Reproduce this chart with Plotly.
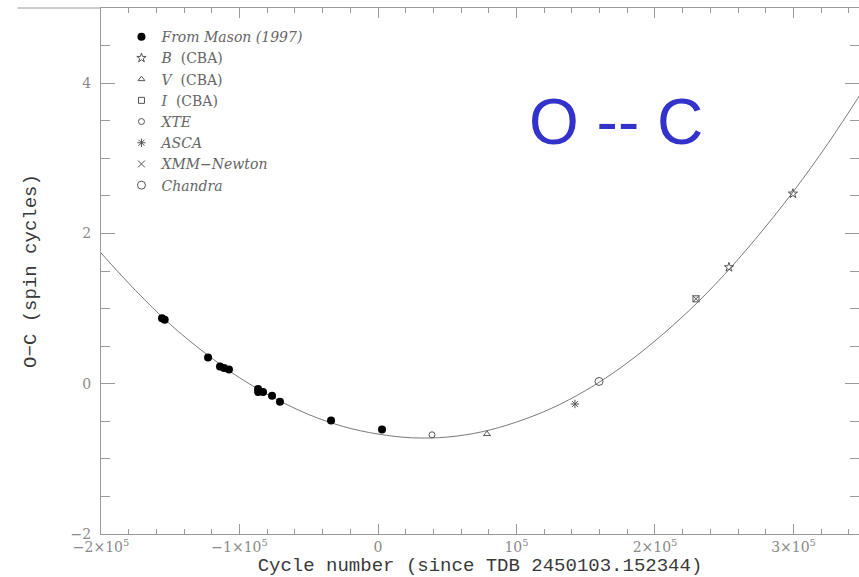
import plotly.graph_objects as go

# O-C timing residuals (spin cycles) against cycle number
mason_cycle = [-1.56e5, -1.54e5, -1.227e5, -1.141e5, -1.112e5, -1.076e5,
               -0.866e5, -0.866e5, -0.830e5, -0.765e5, -0.708e5, -0.339e5, 0.029e5]
mason_oc = [0.87, 0.85, 0.35, 0.23, 0.21, 0.19,
            -0.07, -0.11, -0.11, -0.16, -0.24, -0.49, -0.61]

cba_b_cycle = [2.534e5, 2.996e5]
cba_b_oc = [1.55, 2.53]
cba_v_cycle = [0.787e5]
cba_v_oc = [-0.67]
cba_i_cycle = [2.296e5]
cba_i_oc = [1.13]
xte_cycle = [0.39e5]
xte_oc = [-0.68]
asca_cycle = [1.422e5]
asca_oc = [-0.27]
xmm_cycle = [2.296e5]
xmm_oc = [1.13]
chandra_cycle = [1.596e5]
chandra_oc = [0.03]

# quadratic ephemeris curve, sampled along the plotted range
fit_cycle = [-2.0e5, -1.75e5, -1.5e5, -1.25e5, -1.0e5, -0.75e5, -0.5e5, -0.25e5, 0.0,
             0.25e5, 0.5e5, 0.75e5, 1.0e5, 1.25e5, 1.5e5, 1.75e5, 2.0e5, 2.25e5,
             2.5e5, 2.75e5, 3.0e5, 3.25e5, 3.5e5]
fit_oc = [1.74, 1.24, 0.79, 0.41, 0.08, -0.19, -0.41, -0.57, -0.67,
          -0.72, -0.71, -0.64, -0.51, -0.33, -0.09, 0.21, 0.57, 0.98,
          1.45, 1.98, 2.56, 3.20, 3.90]

x_tickvals = [-2e5, -1e5, 0, 1e5, 2e5, 3e5]
x_ticktext = ["\u22122\u00d710<sup>5</sup>", "\u22121\u00d710<sup>5</sup>", "0",
              "10<sup>5</sup>", "2\u00d710<sup>5</sup>", "3\u00d710<sup>5</sup>"]
y_tickvals = [-2, 0, 2, 4]
y_ticktext = ["\u22122", "0", "2", "4"]

MARK = "#555555"
AXIS = "#9a9a9a"

fig = go.Figure()

fig.add_trace(go.Scatter(x=fit_cycle, y=fit_oc, mode="lines", line=dict(color="#7a7a7a", width=1, shape="spline"),
                         showlegend=False, hoverinfo="skip"))

series = [
    ("<i>From Mason (1997)</i>", mason_cycle, mason_oc, dict(symbol="circle", size=8, color="black")),
    ("<i>B</i>  (CBA)", cba_b_cycle, cba_b_oc, dict(symbol="star-open", size=7, color=MARK, line=dict(width=1, color=MARK))),
    ("<i>V</i>  (CBA)", cba_v_cycle, cba_v_oc, dict(symbol="triangle-up-open", size=6, color=MARK, line=dict(width=1, color=MARK))),
    ("<i>I</i>  (CBA)", cba_i_cycle, cba_i_oc, dict(symbol="square-open", size=6, color=MARK, line=dict(width=1, color=MARK))),
    ("<i>XTE</i>", xte_cycle, xte_oc, dict(symbol="circle-open", size=6, color=MARK, line=dict(width=1, color=MARK))),
    ("<i>ASCA</i>", asca_cycle, asca_oc, dict(symbol="asterisk-open", size=7, color=MARK, line=dict(width=1, color=MARK))),
    ("<i>XMM\u2212Newton</i>", xmm_cycle, xmm_oc, dict(symbol="x-thin-open", size=7, color=MARK, line=dict(width=1, color=MARK))),
    ("<i>Chandra</i>", chandra_cycle, chandra_oc, dict(symbol="circle-open", size=8, color=MARK, line=dict(width=1, color=MARK))),
]
for name, xs, ys, mk in series:
    fig.add_trace(go.Scatter(x=xs, y=ys, mode="markers", name=name, marker=mk))

tickfont = dict(family="DejaVu Serif", size=14, color="#8a8a8a")
titlefont = dict(family="Liberation Mono", size=19, color="#3a3a3a")

fig.update_xaxes(
    range=[-2e5, 3.473e5], tickmode="array", tickvals=x_tickvals, ticktext=x_ticktext,
    ticks="inside", ticklen=10, tickwidth=1, tickcolor=AXIS,
    showline=True, linecolor=AXIS, linewidth=1, mirror="ticks",
    showgrid=False, zeroline=False, tickfont=tickfont,
    minor=dict(ticks="inside", ticklen=5, tickcolor=AXIS, tick0=0, dtick=2e4, showgrid=False),
    title=dict(text="Cycle number (since TDB 2450103.152344)", font=titlefont, standoff=6),
)
fig.update_yaxes(
    range=[-2, 5], tickmode="array", tickvals=y_tickvals, ticktext=y_ticktext,
    ticks="inside", ticklen=14, tickwidth=1, tickcolor=AXIS,
    showline=True, linecolor=AXIS, linewidth=1, mirror="ticks",
    showgrid=False, zeroline=False, tickfont=tickfont, ticklabelstandoff=6,
    minor=dict(ticks="inside", ticklen=9, tickcolor=AXIS, tick0=0, dtick=0.5, showgrid=False),
    title=dict(text="O\u2212C (spin cycles)", font=titlefont, standoff=28),
)

fig.add_annotation(xref="paper", yref="paper", x=0.679, y=0.784, xanchor="center", yanchor="middle",
                   text="O -- C", showarrow=False,
                   font=dict(family="Liberation Sans", size=64, color="#3333cc"))

fig.add_shape(type="line", xref="paper", yref="paper", x0=-0.11, x1=0, y0=1, y1=1,
              line=dict(color=AXIS, width=1))

fig.update_layout(
    width=859, height=577,
    margin=dict(l=101, r=0, t=8, b=43, autoexpand=False),
    paper_bgcolor="white", plot_bgcolor="white",
    legend=dict(x=0.027, y=0.975, xanchor="left", yanchor="top", bgcolor="rgba(0,0,0,0)",
                font=dict(family="DejaVu Serif", size=14, color="#666666"),
                itemwidth=30, tracegroupgap=0),
)

fig.write_html("out.html")
